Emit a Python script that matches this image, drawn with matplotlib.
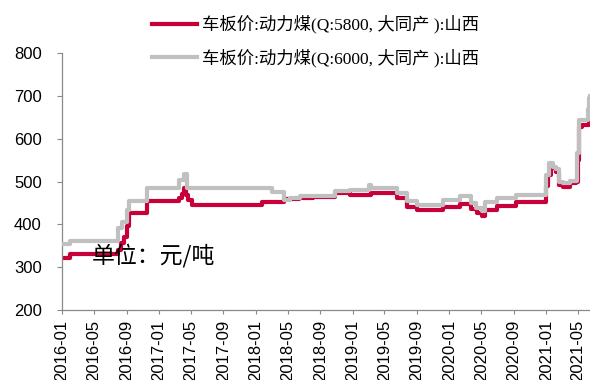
import pandas as pd
import matplotlib
matplotlib.use('Agg')
import matplotlib.pyplot as plt
import matplotlib.dates as mdates

# 车板价:动力煤 山西 大同产, step changes (date the new price starts)
dates_5800 = ['2016-01-01', '2016-02-01', '2016-08-01', '2016-08-12', '2016-08-22',
              '2016-09-01', '2016-09-10', '2016-11-18', '2017-03-16', '2017-03-28',
              '2017-04-05', '2017-04-13', '2017-04-22', '2017-05-04', '2018-01-25',
              '2018-04-17', '2018-06-14', '2018-08-04', '2018-10-26', '2018-12-24',
              '2019-03-12', '2019-06-18', '2019-07-26', '2019-09-02', '2019-12-09',
              '2020-02-11', '2020-03-22', '2020-04-15', '2020-05-02', '2020-05-15',
              '2020-06-28', '2020-09-10', '2020-12-31', '2021-01-08', '2021-01-20',
              '2021-02-06', '2021-02-18', '2021-03-04', '2021-03-30', '2021-04-22',
              '2021-04-29', '2021-05-06', '2021-05-14', '2021-06-10', '2021-06-15']
price_5800 = [322, 330, 340, 356, 371,
              395, 426, 455, 462, 470,
              485, 468, 457, 445, 452,
              458, 461, 463, 474, 468,
              473, 461, 441, 433, 441,
              447, 435, 426, 420, 433,
              443, 453, 490, 515, 531,
              523, 492, 487, 496, 500,
              550, 627, 632, 650, 665]

dates_6000 = ['2016-01-01', '2016-02-01', '2016-07-30', '2016-08-16', '2016-09-01',
              '2016-09-08', '2016-11-17', '2017-03-16', '2017-04-05', '2017-04-17',
              '2018-03-02', '2018-04-17', '2018-05-09', '2018-06-16', '2018-08-04',
              '2018-10-26', '2018-12-22', '2019-03-04', '2019-03-12', '2019-06-18',
              '2019-07-26', '2019-09-02', '2019-12-09', '2020-02-11', '2020-03-22',
              '2020-04-10', '2020-05-02', '2020-05-15', '2020-06-28', '2020-09-10',
              '2020-12-31', '2021-01-10', '2021-01-25', '2021-02-06', '2021-02-18',
              '2021-03-04', '2021-03-30', '2021-04-26', '2021-05-04', '2021-06-08',
              '2021-06-12', '2021-06-15']
price_6000 = [355, 362, 391, 406, 433,
              455, 484, 503, 517, 484,
              476, 457, 461, 465, 467,
              478, 480, 492, 485, 473,
              455, 445, 457, 465, 450,
              438, 432, 453, 461, 468,
              515, 543, 535, 529, 500,
              496, 502, 566, 643, 670,
              695, 700]

labels = ['车板价:动力煤(Q:5800, 大同产 ):山西', '车板价:动力煤(Q:6000, 大同产 ):山西']
colors = ['#C8003A', '#C0C0C0']
yticks = [200, 300, 400, 500, 600, 700, 800]

plt.rcParams['font.family'] = ['Liberation Sans', 'Noto Sans CJK SC']

fig = plt.figure(figsize=(5.9, 3.8), dpi=100)
ax = fig.add_axes([62 / 590, 70 / 380, 528 / 590, 257 / 380])

ax.plot(pd.to_datetime(dates_5800), price_5800, drawstyle='steps-post',
        color=colors[0], lw=3, label=labels[0], zorder=2)
ax.plot(pd.to_datetime(dates_6000), price_6000, drawstyle='steps-post',
        color=colors[1], lw=3, label=labels[1], zorder=3)

ax.set_ylim(200, 800)
ax.set_yticks(yticks)
ax.set_xlim(pd.Timestamp('2016-01-01'), pd.Timestamp('2021-06-15'))
ax.xaxis.set_major_locator(mdates.MonthLocator(bymonth=[1, 5, 9]))
ax.xaxis.set_major_formatter(mdates.DateFormatter('%Y-%m'))

for s in ['top', 'right']:
    ax.spines[s].set_visible(False)
for s in ['left', 'bottom']:
    ax.spines[s].set_color('#898989')
    ax.spines[s].set_linewidth(0.9)
ax.tick_params(axis='y', length=3.5, color='#898989', pad=11, labelsize=12)
ax.tick_params(axis='x', length=3, color='#898989', pad=4, labelsize=12, labelrotation=90)

leg = fig.legend(loc='center left', bbox_to_anchor=(152 / 590, 1 - 41 / 380),
                 frameon=False, borderpad=0, borderaxespad=0,
                 handlelength=2.6, handletextpad=0.3, labelspacing=0.85,
                 prop={'family': ['Liberation Serif', 'Noto Sans CJK SC'], 'size': 12.5})

fig.text(92 / 590, 1 - 256 / 380, '单位：元/吨', fontsize=16.5, va='center', ha='left',
         family=['Noto Sans CJK SC'])

fig.savefig('out.png', dpi=100)
